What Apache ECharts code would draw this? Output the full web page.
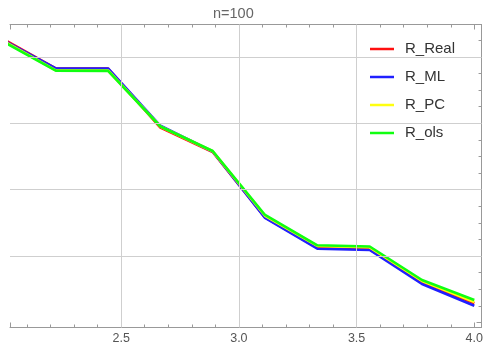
<!DOCTYPE html>
<html><head><meta charset="utf-8">
<script src="https://cdn.jsdelivr.net/npm/echarts@6/dist/echarts.min.js"></script>
<style>html,body{margin:0;padding:0;background:#fff}#c{width:486px;height:347px}</style>
</head><body><div id="c"></div>
<script>
const titleText = 'n=100';
const xValues = [2.0, 2.2222, 2.4444, 2.6667, 2.8889, 3.1111, 3.3333, 3.5556, 3.7778, 4.0];
const rReal = [0.853, 0.7648, 0.7645, 0.587, 0.5133, 0.316, 0.2241, 0.2202, 0.1211, 0.0575];
const rML   = [0.850, 0.7654, 0.7648, 0.5922, 0.5148, 0.3145, 0.222, 0.2181, 0.1157, 0.0503];
const rPC   = [0.8476, 0.7593, 0.7587, 0.5901, 0.5154, 0.3211, 0.2301, 0.2262, 0.1247, 0.0614];
const rOls  = [0.8455, 0.7581, 0.7575, 0.5901, 0.5163, 0.3235, 0.2322, 0.2286, 0.1277, 0.0675];
const seriesNames = ['R_Real', 'R_ML', 'R_PC', 'R_ols'];
const seriesData = [rReal, rML, rPC, rOls];
const seriesColors = ['#ff1010', '#2020ff', '#ffff10', '#10ff10'];
const xGridValues = [2.5, 3.0, 3.5];
const yGridValues = [0.2, 0.4, 0.6, 0.8];

const FONT = '"Liberation Sans", Arial, sans-serif';
const chart = echarts.init(document.getElementById('c'));

function xAxisCfg(pos, showLabel) {
  return {
    type: 'value', position: pos, min: 2.0279, max: 4.0308,
    axisLine: { show: true, onZero: false, lineStyle: { color: '#999', width: 1 } },
    axisTick: { show: true, inside: true, length: 5, lineStyle: { color: '#999' } },
    minorTick: { show: true, splitNumber: 5, length: 3, lineStyle: { color: '#999' } },
    splitLine: { show: false },
    axisLabel: { show: showLabel, showMinLabel: false, showMaxLabel: false,
      formatter: v => v.toFixed(1), color: '#555', fontSize: 12.5, margin: 5, fontFamily: FONT }
  };
}

const series = seriesNames.map((n, i) => ({
  name: n, type: 'line', symbol: 'none', animation: false,
  data: xValues.map((x, j) => [x, seriesData[i][j]]),
  lineStyle: { color: seriesColors[i], width: 2.6 },
  itemStyle: { color: seriesColors[i] },
  z: 3
}));
series.unshift({
  type: 'line', data: [], z: 1, silent: true, animation: false,
  markLine: {
    silent: true, animation: false, symbol: ['none', 'none'],
    label: { show: false },
    lineStyle: { color: '#cfcfcf', width: 1, type: 'solid' },
    emphasis: { disabled: true },
    data: [
      ...xGridValues.map(v => ({ xAxis: v })),
      ...yGridValues.map(v => ({ yAxis: v }))
    ]
  }
});

chart.setOption({
  animation: false,
  backgroundColor: '#fff',
  title: { text: titleText, left: 213, top: 6, padding: 0,
    textStyle: { fontSize: 14.5, fontWeight: 'normal', color: '#666', fontFamily: FONT } },
  grid: { left: 10, right: 1.5, top: 24.5, bottom: 19.5, containLabel: false },
  legend: {
    data: seriesNames, orient: 'vertical', left: 360, top: 35,
    padding: [6, 8, 6, 10], backgroundColor: '#fff',
    icon: 'path://M0,0 L24,0 L24,2.5 L0,2.5 Z',
    itemWidth: 24, itemHeight: 16, itemGap: 12,
    textStyle: { fontSize: 15, color: '#333', fontFamily: FONT, padding: [0, 0, 0, 6], lineHeight: 16 }
  },
  xAxis: [xAxisCfg('bottom', true), xAxisCfg('top', false)],
  yAxis: {
    type: 'value', position: 'right', min: -0.0154, max: 0.8973,
    axisLine: { show: true, onZero: false, lineStyle: { color: '#999', width: 1 } },
    axisTick: { show: true, inside: true, length: 5, lineStyle: { color: '#999' } },
    minorTick: { show: true, splitNumber: 4, length: 3, lineStyle: { color: '#999' } },
    splitLine: { show: false },
    axisLabel: { show: false }
  },
  series: series
});
</script>
</body></html>
